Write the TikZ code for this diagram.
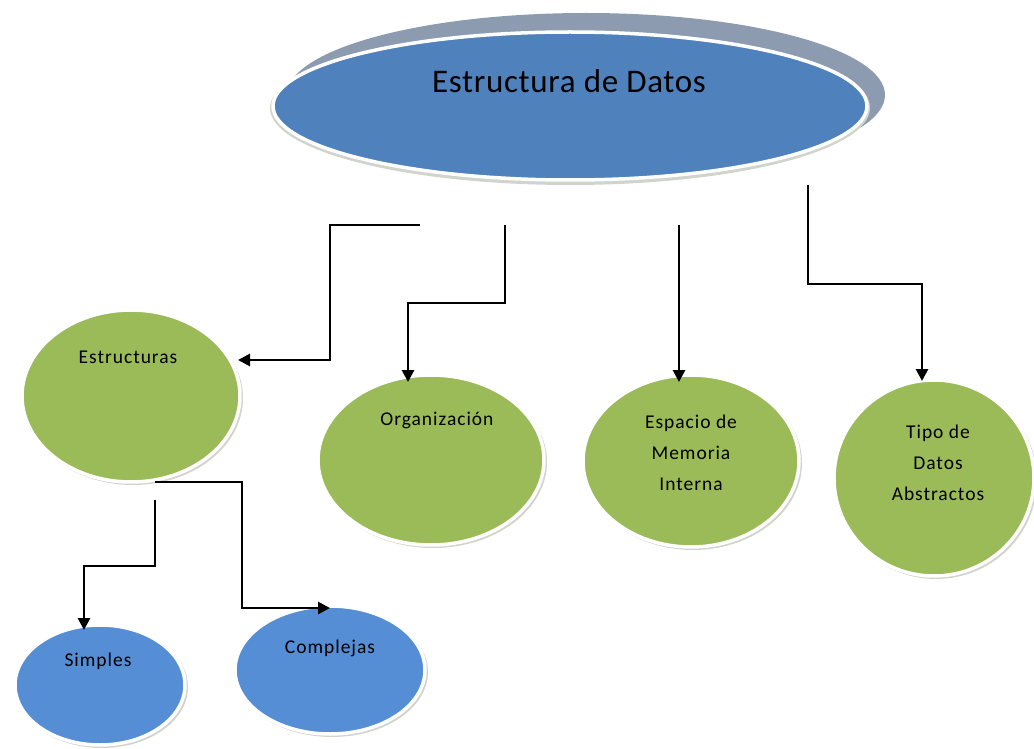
\documentclass[tikz,border=0pt]{standalone}
\usepackage{fontspec}
\setmainfont{Carlito}
\newfontfamily\lbl[LetterSpace=5]{Carlito}
\newfontfamily\ttl[LetterSpace=2]{Carlito}
\usetikzlibrary{shapes.geometric,arrows.meta}
\definecolor{mainblue}{HTML}{4F81BD}
\definecolor{shadowgray}{HTML}{8C9BB0}
\definecolor{leafgreen}{HTML}{9BBB59}
\definecolor{leafblue}{HTML}{558ED5}
\definecolor{softshadow}{HTML}{D0D4CC}
\tikzset{
  x=1pt, y=-1pt,
  oval/.style={ellipse, inner sep=0pt, draw=white, line width=3.5pt},
  ovalshadow/.style={ellipse, inner sep=0pt, fill=softshadow},
  lbltext/.style={font=\lbl\fontsize{19.5}{31}\selectfont, align=center, inner sep=0pt},
  conn/.style={line width=2.8pt, black},
  arr/.style={conn, -{Triangle[length=12pt,width=12pt]}},
}
\begin{document}
\begin{tikzpicture}
\useasboundingbox (0,0) rectangle (1034,749);
% main
\node[ellipse, inner sep=0pt, fill=shadowgray, minimum width=598pt, minimum height=164pt] (mainsh) at (586,95) {};
\node[ovalshadow, minimum width=600pt, minimum height=154pt] (mainsoft) at (570,108) {};
\node[oval, fill=mainblue, minimum width=594pt, minimum height=148pt] (main) at (570,106) {};
\node[font=\ttl\fontsize{33}{36}\selectfont, inner sep=0pt] (maintxt) at (569,81) {Estructura de Datos};
% green
\node[ovalshadow, minimum width=220pt, minimum height=174pt] at (133,398) {};
\node[oval, fill=leafgreen, minimum width=218pt, minimum height=172pt] (estr) at (131,396) {};
\node[lbltext] (estrtxt) at (128,357) {Estructuras};
\node[ovalshadow, minimum width=228pt, minimum height=172pt] at (433,462) {};
\node[oval, fill=leafgreen, minimum width=226pt, minimum height=170pt] (org) at (431,460) {};
\node[lbltext] (orgtxt) at (437,420) {Organización};
\node[ovalshadow, minimum width=218pt, minimum height=174pt] at (693,463) {};
\node[oval, fill=leafgreen, minimum width=216pt, minimum height=172pt] (esp) at (691,461) {};
\node[lbltext] (esptxt) at (691,453) {Espacio de\\Memoria\\Interna};
\node[ovalshadow, minimum width=202pt, minimum height=198pt] at (936,480) {};
\node[oval, fill=leafgreen, minimum width=200pt, minimum height=196pt] (tipo) at (934,478) {};
\node[lbltext] (tipotxt) at (938,463) {Tipo de\\Datos\\Abstractos};
% blue small
\node[ovalshadow, minimum width=172pt, minimum height=122pt] at (102,687) {};
\node[oval, fill=leafblue, minimum width=170pt, minimum height=120pt] (simp) at (100,685) {};
\node[lbltext] (simptxt) at (98,661) {Simples};
\node[ovalshadow, minimum width=192pt, minimum height=130pt] at (332,672) {};
\node[oval, fill=leafblue, minimum width=190pt, minimum height=128pt] (comp) at (330,670) {};
\node[lbltext] (comptxt) at (330,648) {Complejas};
% connector start points
\coordinate (s1) at (420,225);
\coordinate (s2) at (505,225);
\coordinate (s3) at (679,225);
\coordinate (s4) at (808,185);
\coordinate (s5) at (155,482);
\coordinate (s6) at (155,500);
\coordinate (e1) at (238,360);
\coordinate (e2) at (408,382);
\coordinate (e3) at (679,382);
\coordinate (e4) at (922,381);
\coordinate (e5) at (330,608);
\coordinate (e6) at (84,630);
\draw[arr] (s1) -- (330,225) -- (330,360) -- (e1);
\draw[arr] (s2) -- (505,303) -- (408,303) -- (e2);
\draw[arr] (s3) -- (e3);
\draw[arr] (s4) -- (808,284) -- (922,284) -- (e4);
\draw[arr] (s5) -- (242,482) -- (242,608) -- (e5);
\draw[arr] (s6) -- (155,566) -- (84,566) -- (e6);
\end{tikzpicture}
\end{document}
